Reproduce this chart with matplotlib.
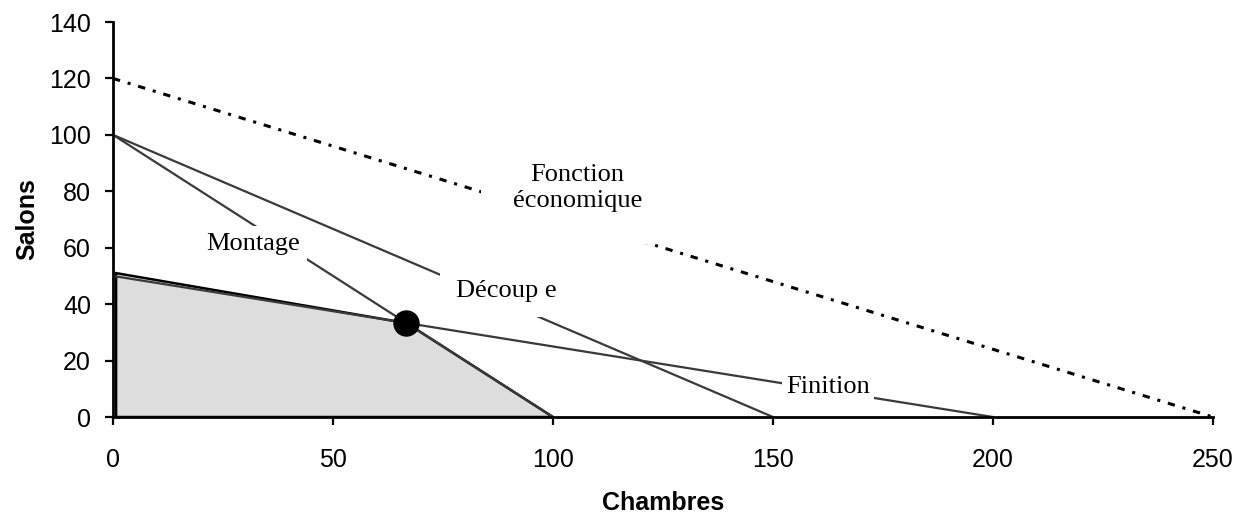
import matplotlib.pyplot as plt

# contraintes (droites) : points d'intersection avec les axes
montage_x = [0, 100]
montage_y = [100, 0]
decoupe_x = [0, 150]
decoupe_y = [100, 0]
finition_x = [0, 200]
finition_y = [50, 0]
fonction_x = [0, 250]
fonction_y = [120, 0]

# domaine réalisable
zone_x = [0.7, 0.7, 66.7, 100]
zone_y = [0, 51, 33.3, 0]

optimum = (66.7, 33.3)

fig = plt.figure(figsize=(12.46, 5.17), dpi=100)
ax = fig.add_axes([0.0907, 0.1934, 0.8828, 0.764])

ax.fill(zone_x, zone_y, facecolor='#dddddd', edgecolor='black', linewidth=1.8, zorder=1)

ax.plot(montage_x, montage_y, color='#3a3a3a', lw=1.6, zorder=2)
ax.plot(decoupe_x, decoupe_y, color='#3a3a3a', lw=1.6, zorder=2)
ax.plot(finition_x, finition_y, color='#3a3a3a', lw=1.6, zorder=2)
ax.plot(fonction_x, fonction_y, color='black', lw=2.2,
        linestyle=(0, (2.4, 2.6, 1.0, 2.6)), zorder=2)

ax.plot(*optimum, 'o', color='black', markersize=18, zorder=5)

txt = dict(family='Liberation Serif', fontsize=19, ha='center', va='baseline', zorder=4)
ax.text(31.8, 59.2, 'Montage', bbox=dict(fc='white', ec='none', pad=5), **txt)
ax.text(89.3, 42.5, 'Découp e', bbox=dict(fc='white', ec='none', pad=11), **txt)
ax.text(105.5, 74.4, 'Fonction\néconomique', linespacing=1.25,
        bbox=dict(fc='white', ec='none', pad=23), **txt)
ax.text(162.5, 8.5, 'Finition', bbox=dict(fc='white', ec='none', pad=3), **txt)

ax.set_xlim(0, 250)
ax.set_ylim(0, 140)
ax.set_xticks(range(0, 251, 50))
ax.set_yticks(range(0, 141, 20))
ax.tick_params(labelsize=18, length=5.8, width=1.6, direction='out')
ax.tick_params(axis='x', pad=16.5)
ax.tick_params(axis='y', pad=10)
ax.spines['top'].set_visible(False)
ax.spines['right'].set_visible(False)
ax.spines['left'].set_linewidth(2)
ax.spines['bottom'].set_linewidth(2)
ax.set_xlabel('Chambres', fontsize=18, fontweight='bold', family='Liberation Sans', labelpad=14)
ax.set_ylabel('Salons', fontsize=18, fontweight='bold', family='Liberation Sans', labelpad=7)
for lab in ax.get_xticklabels() + ax.get_yticklabels():
    lab.set_family('Liberation Sans')

fig.savefig('out.png', dpi=100)
